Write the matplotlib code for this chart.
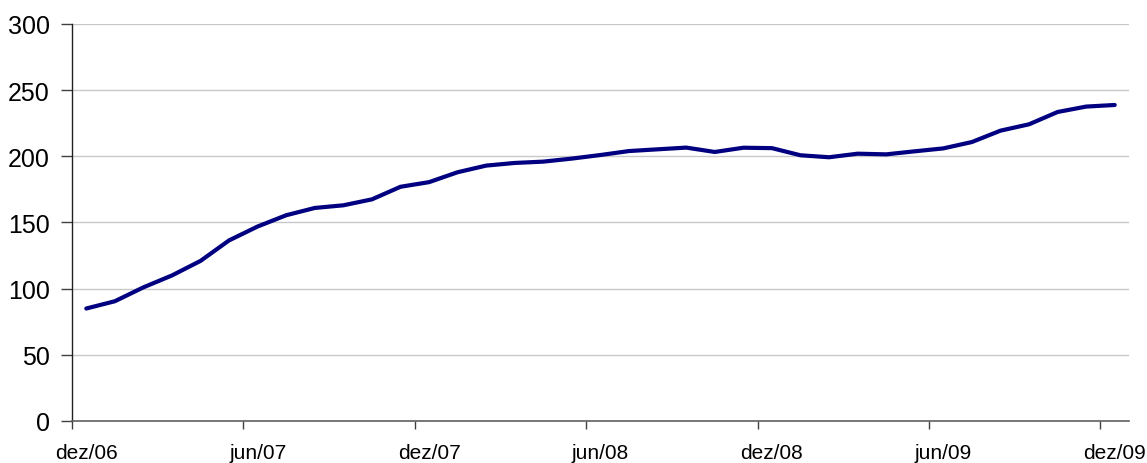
import matplotlib
matplotlib.use("Agg")
import matplotlib.pyplot as plt
import numpy as np

plt.rcParams['font.family'] = ['Liberation Sans', 'DejaVu Sans']

values = [85, 90.5, 101, 110, 121, 136.5, 147, 155.5, 161, 163, 167.5, 177,
          180.5, 188, 193, 195, 196, 198.3, 201, 204, 205.3, 206.6, 203.3, 206.5,
          206.2, 200.8, 199.3, 202, 201.5, 203.8, 206, 210.8, 219.4, 224.2, 233.5,
          237.6, 238.8]
tick_labels = ['dez/06', 'jun/07', 'dez/07', 'jun/08', 'dez/08', 'jun/09', 'dez/09']
label_step = 6
yticks = [0, 50, 100, 150, 200, 250, 300]

fig = plt.figure(figsize=(11.47, 4.64), dpi=100)
ax = fig.add_axes([72/1147, 1-422/464, (1129-72)/1147, (422-25)/464])

x = np.arange(len(values)) + 0.5
ax.plot(x, values, color='#000080', lw=3.0, solid_capstyle='round', solid_joinstyle='round', zorder=3)

ax.set_xlim(0, len(values))
ax.set_ylim(0, 300)
ax.set_yticks(yticks)
ax.set_yticklabels([str(v) for v in yticks], fontsize=18)
ax.yaxis.grid(True, color='#c8c8c8', lw=1.0)
ax.set_axisbelow(True)

# tick marks at category boundaries, labels under category centers
major = np.arange(0, len(values) + 1, label_step)
ax.set_xticks(major)
ax.set_xticklabels([''] * len(major))
ax.set_xticks(np.arange(0.5, len(values), label_step), minor=True)
ax.set_xticklabels(tick_labels, minor=True, fontsize=15)
ax.tick_params(axis='x', which='minor', length=0, pad=16)
ax.tick_params(axis='x', which='major', length=6, width=1, color='#404040')
ax.tick_params(axis='y', length=8, width=1, pad=8, color='#404040')

for s in ['top', 'right']:
    ax.spines[s].set_visible(False)
ax.spines['left'].set_color('#202020')
ax.spines['bottom'].set_color('#606060')
ax.spines['left'].set_linewidth(1)
ax.spines['bottom'].set_linewidth(1.2)

fig.savefig('out.png', dpi=100)
